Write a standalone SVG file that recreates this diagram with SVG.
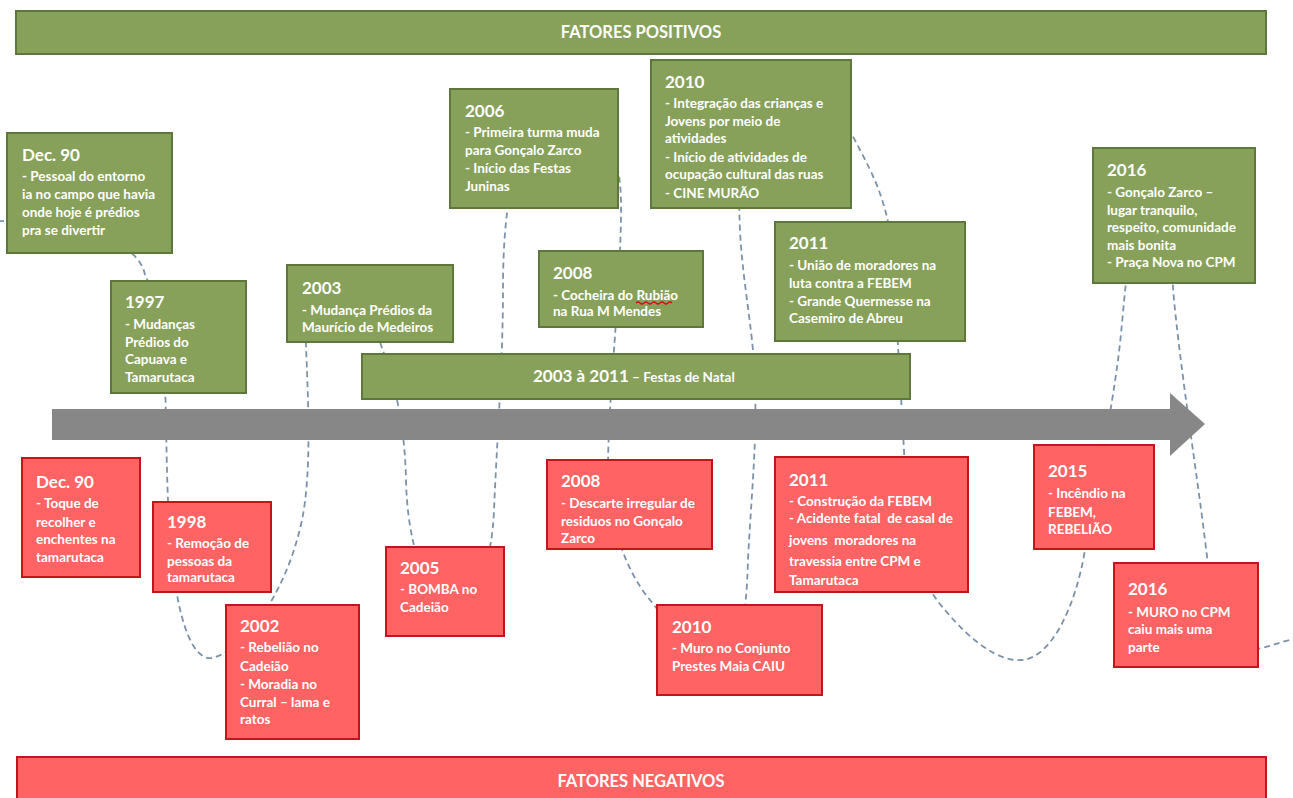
<svg xmlns="http://www.w3.org/2000/svg" width="1293" height="798" viewBox="0 0 1293 798">
<defs>
<style>
.g rect{fill:#87a15a;stroke:#5e773a;stroke-width:2}
.r rect{fill:#ff6363;stroke:#c3161c;stroke-width:2}
text{font-family:Lato,"Liberation Sans",sans-serif;fill:#ffffff}
.t{font-size:13.5px;font-weight:bold}
.h{font-size:17px;font-weight:bold}
.b{font-size:16.5px;font-weight:bold}
.wave{fill:none;stroke:#7b92ab;stroke-width:1.8;stroke-dasharray:6 4}
</style>
</defs>
<rect width="1293" height="798" fill="#ffffff"/>
<g id="connectors">
<path class="wave" d="M -2,221 C 70,222 138,238 145,275 C 160,305 165,360 166,420 C 167,480 168,550 178,600 C 186,640 198,660 212,658 C 240,652 285,600 302,520 C 312,470 308,400 306,345 C 304,300 318,282 340,282 C 362,282 372,318 382,348 C 396,385 405,430 406,480 C 407,540 425,600 450,602 C 478,604 492,560 494,510 C 497,440 503,360 503,290 C 503,220 510,125 560,122 C 612,120 622,160 621,215 C 620,300 608,400 608,470 C 608,520 625,570 650,600 C 670,625 690,655 712,655 C 742,655 746,620 748,560 C 752,480 760,420 752,340 C 745,280 737,240 740,180 C 743,120 770,100 800,100 C 830,100 848,125 860,150 C 876,180 890,210 893,260 C 897,330 902,410 905,470 C 908,540 918,580 945,610 C 970,640 998,662 1022,660 C 1050,658 1075,610 1085,550 C 1098,480 1110,420 1118,360 C 1126,300 1128,200 1150,200 C 1168,200 1170,250 1174,300 C 1182,380 1195,460 1205,540 C 1212,600 1222,650 1245,650 C 1265,650 1280,641 1295,639"/>
</g>
<g id="arrow">
<polygon points="52,409 1170,409 1170,393 1205,424 1170,456 1170,440 52,440" fill="#878787"/>
</g>
<g id="banner-pos" class="g">
<rect x="16" y="11" width="1250" height="43"/>
<text class="b" x="641" y="38" text-anchor="middle">FATORES POSITIVOS</text>
</g>
<g id="banner-neg" class="r">
<rect x="17" y="757" width="1249" height="50"/>
<text class="b" x="641" y="787" text-anchor="middle">FATORES NEGATIVOS</text>
</g>
<g id="natal" class="g">
<rect x="362" y="354" width="548" height="45"/>
<text x="533" y="382"><tspan class="h">2003 à 2011</tspan><tspan class="t"> – Festas de Natal</tspan></text>
</g>
<g id="p-dec90" class="g">
<rect x="7" y="133" width="165" height="120"/>
<text class="h" x="22" y="161">Dec. 90</text>
<text class="t" x="22" y="181">- Pessoal do entorno</text>
<text class="t" x="22" y="199">ia no campo que havia</text>
<text class="t" x="22" y="217">onde hoje é prédios</text>
<text class="t" x="22" y="235">pra se divertir</text>
</g>
<g id="p-1997" class="g">
<rect x="111" y="281" width="135" height="112"/>
<text class="h" x="125" y="308">1997</text>
<text class="t" x="125" y="329">- Mudanças</text>
<text class="t" x="125" y="347">Prédios do</text>
<text class="t" x="125" y="364">Capuava e</text>
<text class="t" x="125" y="382">Tamarutaca</text>
</g>
<g id="p-2003" class="g">
<rect x="287" y="265" width="166" height="77"/>
<text class="h" x="302" y="294">2003</text>
<text class="t" x="302" y="315">- Mudança Prédios da</text>
<text class="t" x="302" y="332">Maurício de Medeiros</text>
</g>
<g id="p-2006" class="g">
<rect x="450" y="89" width="168" height="119"/>
<text class="h" x="465" y="117">2006</text>
<text class="t" x="465" y="137">- Primeira turma muda</text>
<text class="t" x="465" y="155">para Gonçalo Zarco</text>
<text class="t" x="465" y="173">- Início das Festas</text>
<text class="t" x="465" y="191">Juninas</text>
</g>
<g id="p-2008" class="g">
<rect x="539" y="251" width="164" height="76"/>
<text class="h" x="553" y="279">2008</text>
<text class="t" x="553" y="300">- Cocheira do Rubião</text>
<text class="t" x="553" y="316">na Rua M Mendes</text>
<path d="M 636,303 q 2,-2 4,0 t 4,0 t 4,0 t 4,0 t 4,0 t 4,0 t 4,0 t 4,0 t 4,0" fill="none" stroke="#e8001c" stroke-width="1.2"/>
</g>
<g id="p-2010" class="g">
<rect x="651" y="60" width="200" height="148"/>
<text class="h" x="665" y="88">2010</text>
<text class="t" x="665" y="108">- Integração das crianças e</text>
<text class="t" x="665" y="126">Jovens por meio de</text>
<text class="t" x="665" y="143">atividades</text>
<text class="t" x="665" y="162">- Início de atividades de</text>
<text class="t" x="665" y="179">ocupação cultural das ruas</text>
<text class="t" x="665" y="198">- CINE MURÃO</text>
</g>
<g id="p-2011" class="g">
<rect x="775" y="222" width="190" height="119"/>
<text class="h" x="789" y="249">2011</text>
<text class="t" x="789" y="270">- União de moradores na</text>
<text class="t" x="789" y="288">luta contra a FEBEM</text>
<text class="t" x="789" y="306">- Grande Quermesse na</text>
<text class="t" x="789" y="323">Casemiro de Abreu</text>
</g>
<g id="p-2016" class="g">
<rect x="1093" y="148" width="162" height="135"/>
<text class="h" x="1107" y="176">2016</text>
<text class="t" x="1107" y="197">- Gonçalo Zarco –</text>
<text class="t" x="1107" y="215">lugar tranquilo,</text>
<text class="t" x="1107" y="232">respeito, comunidade</text>
<text class="t" x="1107" y="250">mais bonita</text>
<text class="t" x="1107" y="267">- Praça Nova no CPM</text>
</g>
<g id="n-dec90" class="r">
<rect x="22" y="458" width="118" height="119"/>
<text class="h" x="36" y="488">Dec. 90</text>
<text class="t" x="36" y="508">- Toque de</text>
<text class="t" x="36" y="527">recolher e</text>
<text class="t" x="36" y="544">enchentes na</text>
<text class="t" x="36" y="562">tamarutaca</text>
</g>
<g id="n-1998" class="r">
<rect x="153" y="502" width="118" height="90"/>
<text class="h" x="167" y="528">1998</text>
<text class="t" x="167" y="548">- Remoção de</text>
<text class="t" x="167" y="566">pessoas da</text>
<text class="t" x="167" y="582">tamarutaca</text>
</g>
<g id="n-2002" class="r">
<rect x="226" y="605" width="133" height="134"/>
<text class="h" x="240" y="632">2002</text>
<text class="t" x="240" y="652">- Rebelião no</text>
<text class="t" x="240" y="671">Cadeião</text>
<text class="t" x="240" y="689">- Moradia no</text>
<text class="t" x="240" y="707">Curral – lama e</text>
<text class="t" x="240" y="724">ratos</text>
</g>
<g id="n-2005" class="r">
<rect x="386" y="547" width="118" height="89"/>
<text class="h" x="400" y="574">2005</text>
<text class="t" x="400" y="594">- BOMBA no</text>
<text class="t" x="400" y="612">Cadeião</text>
</g>
<g id="n-2008" class="r">
<rect x="547" y="460" width="165" height="89"/>
<text class="h" x="561" y="487">2008</text>
<text class="t" x="561" y="508">- Descarte irregular de</text>
<text class="t" x="561" y="526">residuos no Gonçalo</text>
<text class="t" x="561" y="543">Zarco</text>
</g>
<g id="n-2010" class="r">
<rect x="657" y="605" width="165" height="90"/>
<text class="h" x="672" y="633">2010</text>
<text class="t" x="672" y="653">- Muro no Conjunto</text>
<text class="t" x="672" y="671">Prestes Maia CAIU</text>
</g>
<g id="n-2011" class="r">
<rect x="775" y="457" width="193" height="135"/>
<text class="h" x="789" y="486">2011</text>
<text class="t" x="789" y="506">- Construção da FEBEM</text>
<text class="t" x="789" y="523" xml:space="preserve">- Acidente fatal  de casal de</text>
<text class="t" x="789" y="545" xml:space="preserve">jovens  moradores na</text>
<text class="t" x="789" y="566">travessia entre CPM e</text>
<text class="t" x="789" y="585">Tamarutaca</text>
</g>
<g id="n-2015" class="r">
<rect x="1034" y="445" width="120" height="104"/>
<text class="h" x="1048" y="477">2015</text>
<text class="t" x="1048" y="498">- Incêndio na</text>
<text class="t" x="1048" y="517">FEBEM,</text>
<text class="t" x="1048" y="534">REBELIÃO</text>
</g>
<g id="n-2016" class="r">
<rect x="1114" y="563" width="144" height="104"/>
<text class="h" x="1128" y="595">2016</text>
<text class="t" x="1128" y="617">- MURO no CPM</text>
<text class="t" x="1128" y="634">caiu mais uma</text>
<text class="t" x="1128" y="652">parte</text>
</g>
</svg>
